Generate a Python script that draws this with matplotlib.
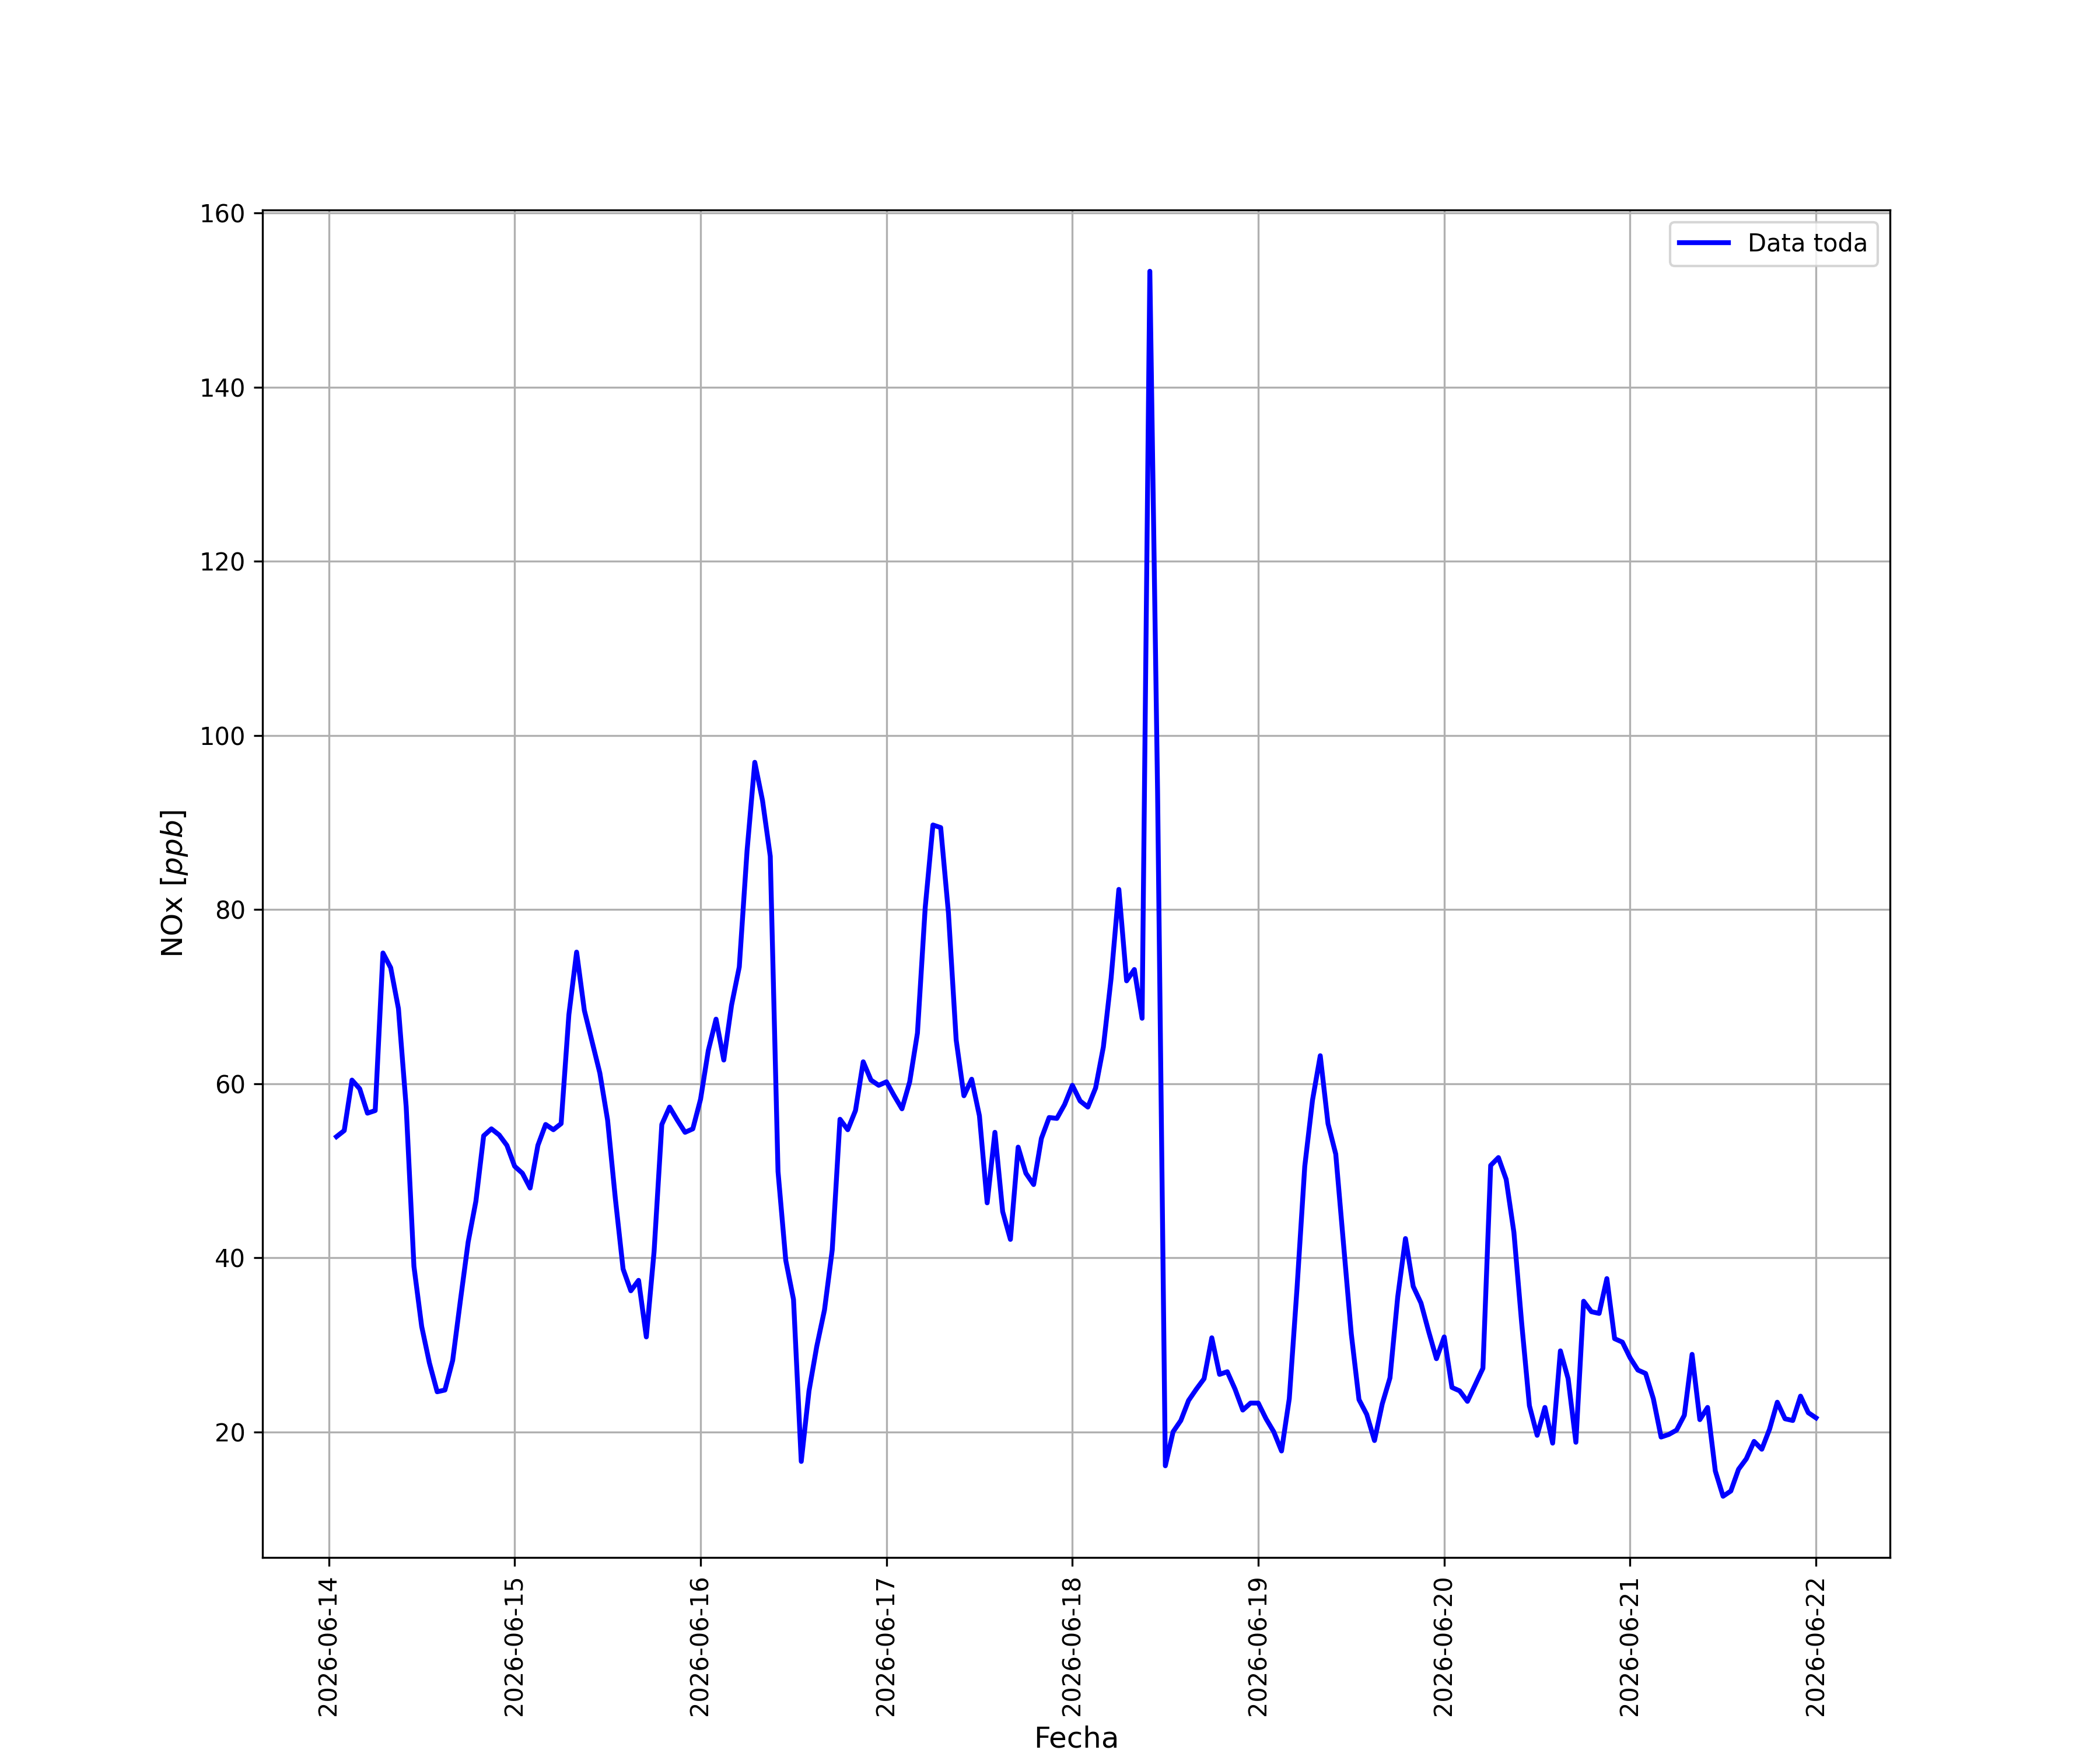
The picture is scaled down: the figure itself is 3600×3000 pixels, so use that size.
import matplotlib
matplotlib.use("Agg")
import matplotlib.pyplot as plt
import matplotlib.dates as mdates
import numpy as np
import pandas as pd

# hourly NOx readings, starting 2026-06-14 01:00
dia_14 = [53.9, 54.6, 60.4, 59.4, 56.6, 56.9, 75.0, 73.3, 68.6, 57.3, 39.0, 32.1,
          27.9, 24.6, 24.8, 28.2, 35.1, 41.8, 46.5, 54.0, 54.8, 54.1, 52.9]
dia_15 = [50.5, 49.7, 48.0, 52.9, 55.3, 54.7, 55.4, 67.9, 75.1, 68.4, 64.8, 61.2,
          55.8, 46.8, 38.7, 36.2, 37.4, 30.9, 40.7, 55.3, 57.3, 55.8, 54.4, 54.8]
dia_16 = [58.2, 63.8, 67.4, 62.7, 69.0, 73.4, 86.7, 96.9, 92.5, 86.1, 49.9, 39.7,
          35.2, 16.6, 24.7, 29.8, 34.0, 40.9, 55.9, 54.7, 56.9, 62.5, 60.4, 59.8]
dia_17 = [60.2, 58.6, 57.1, 60.2, 65.8, 80.2, 89.7, 89.4, 79.6, 65.0, 58.6, 60.5,
          56.3, 46.3, 54.4, 45.3, 42.1, 52.7, 49.7, 48.4, 53.7, 56.1, 56.0, 57.6]
dia_18 = [59.8, 58.0, 57.3, 59.5, 64.2, 72.1, 82.3, 71.8, 73.1, 67.5, 153.3, 93.5,
          16.1, 20.0, 21.3, 23.6, 24.9, 26.1, 30.8, 26.6, 26.9, 24.9, 22.5, 23.3]
dia_19 = [23.3, 21.5, 20.0, 17.8, 23.8, 36.5, 50.5, 58.1, 63.2, 55.4, 51.9, 41.6,
          31.3, 23.7, 22.0, 19.0, 23.2, 26.2, 35.5, 42.2, 36.7, 34.8, 31.5, 28.4]
dia_20 = [30.9, 25.1, 24.7, 23.5, 25.4, 27.3, 50.6, 51.5, 49.0, 42.9, 32.5, 23.0,
          19.6, 22.8, 18.7, 29.3, 26.1, 18.8, 35.0, 33.8, 33.6, 37.6, 30.7, 30.3]
dia_21 = [28.5, 27.1, 26.7, 23.8, 19.4, 19.7, 20.2, 21.9, 28.9, 21.4, 22.8, 15.5,
          12.6, 13.2, 15.7, 16.9, 18.9, 18.0, 20.3, 23.4, 21.5, 21.3, 24.1, 22.2]
dia_22 = [21.6]

nox = dia_14 + dia_15 + dia_16 + dia_17 + dia_18 + dia_19 + dia_20 + dia_21 + dia_22
fechas = pd.date_range("2026-06-14 01:00", periods=len(nox), freq="h")

fig, ax = plt.subplots(figsize=(12, 10))
ax.plot(fechas, nox, color="b", linewidth=2, label="Data toda")

ax.xaxis.set_major_locator(mdates.DayLocator())
ax.xaxis.set_major_formatter(mdates.DateFormatter("%Y-%m-%d"))
plt.xticks(rotation=90)

ax.set_xlabel("Fecha", fontsize=12)
ax.set_ylabel("NOx [$ppb$]", fontsize=12)
ax.grid(True)
ax.legend(loc="upper right")

plt.savefig("out.png", dpi=300)
plt.close(fig)
